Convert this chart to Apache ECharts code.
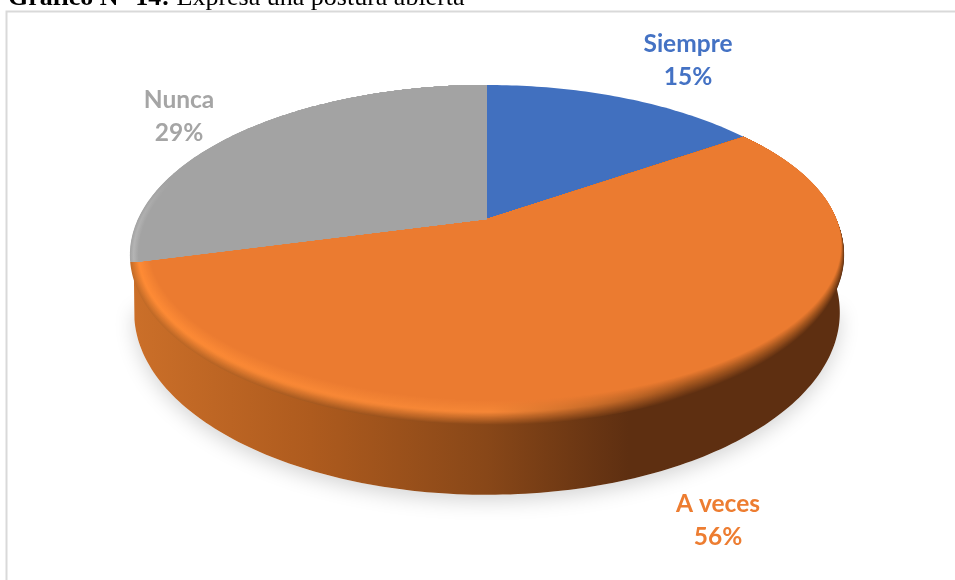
<!DOCTYPE html>
<html>
<head>
<meta charset="utf-8">
<script src="https://cdn.jsdelivr.net/npm/echarts@6/dist/echarts.min.js"></script>
<style>
  html, body { margin: 0; padding: 0; background: #fff; overflow: hidden; }
  #main { width: 955px; height: 580px; }
</style>
</head>
<body>
<div id="main"></div>
<script>
const categories = ["Siempre", "A veces", "Nunca"];
const percents = [15.4, 55.6, 29];
const faceColors = ["#4170BF", "#EB7B30", "#A3A3A3"];
const labelColors = ["#4472C4", "#ED7D31", "#A5A5A5"];

// hand placed labels, centre of the two lines (Excel had them moved)
const labelCentres = [[688, 61], [718, 521], [179, 117]];

// pie disc seen in perspective: apex on screen, and how the unit circle maps to it
const disc = { cx: 487, a: 349, b: 116, apexY: 219, p: -0.2118, depth: 55 };
const total = percents.reduce((s, v) => s + v, 0);

function project(deg, depth) {
  const u = Math.sin((deg * Math.PI) / 180),
    v = -Math.cos((deg * Math.PI) / 180),
    w = 1 + disc.p * v;
  return [
    disc.cx + (disc.a * u * (depth ? 0.988 : 1)) / w,
    (disc.b * v + disc.apexY + (depth || 0)) / w
  ];
}

function arc(from, to, depth) {
  const pts = [],
    n = Math.ceil(to - from);
  for (let i = 0; i <= n; i++) pts.push(project(from + ((to - from) * i) / n, depth));
  return pts;
}

function sliceAngles(idx) {
  let start = 0;
  for (let i = 0; i < idx; i++) start += (percents[i] / total) * 360;
  return [start, start + (percents[idx] / total) * 360];
}

function lerpColor(c1, c2, t) {
  const a = echarts.color.parse(c1),
    b = echarts.color.parse(c2);
  return (
    "rgb(" + [0, 1, 2].map((i) => Math.round(a[i] + (b[i] - a[i]) * t)).join(",") + ")"
  );
}

function ramp(outer, peak, face, t, at) {
  return t < at ? lerpColor(outer, peak, t / at) : lerpColor(peak, face, (t - at) / (1 - at));
}

function hGradient(stops) {
  return new echarts.graphic.LinearGradient(0, 0, 1, 0, stops);
}

// soft shadow under the front half of the disc
function renderShadow() {
  return {
    type: "polygon",
    shape: { points: arc(100, 260, disc.depth) },
    style: {
      fill: "#fff",
      shadowBlur: 20,
      shadowOffsetY: 6,
      shadowColor: "rgba(0,0,0,0.17)"
    }
  };
}

function renderWall(params, api) {
  const [start, end] = sliceAngles(params.dataIndex);
  // only the slice crossing the front shows a side wall in this view
  if (!(start < 180 && end > 180)) return;
  // upper edge pulled in a bit under the face, else the white shows in the seam
  const upper = arc(start, end).map((p) => [
    p[0] + (disc.cx - p[0]) * 0.01,
    p[1] + (disc.apexY - p[1]) * 0.01
  ]);
  return {
    type: "polygon",
    shape: { points: upper.concat(arc(start, end, disc.depth).reverse()) },
    style: {
      fill: hGradient([
        { offset: 0, color: "#CB6F29" },
        { offset: 0.25, color: "#AE5B1E" },
        { offset: 0.5, color: "#884718" },
        { offset: 0.7, color: "#5E2F11" },
        { offset: 1, color: "#5E2F11" }
      ])
    }
  };
}

function renderFace(params, api) {
  const idx = params.dataIndex,
    [start, end] = sliceAngles(idx),
    apex = [disc.cx, disc.apexY],
    rim = arc(start, end),
    face = faceColors[idx],
    children = [];
  const layers = 24;
  if (start < 180 && end > 180) {
    // rounded edge: thin layers shrinking towards the inside
    const anchor = rim[0];
    for (let k = 0; k < layers; k++) {
      const t = k / (layers - 1),
        pts = rim.map((p) => [
          anchor[0] + (p[0] - anchor[0]) * (1 - 0.03 * t),
          anchor[1] + (p[1] - anchor[1]) * (1 - 0.085 * t)
        ]);
      const left = ramp("#C46C28", "#FF8B35", face, t, 0.42),
        mid = ramp("#8A4818", "#F58636", face, t, 0.5),
        right = ramp("#5E2F11", "#A8581F", face, t, 0.55);
      children.push({
        type: "polygon",
        shape: { points: [apex].concat(pts) },
        style: {
          fill: hGradient([
            { offset: 0, color: left },
            { offset: 0.5, color: mid },
            { offset: 0.78, color: right },
            { offset: 1, color: right }
          ])
        }
      });
    }
  } else if (end > 180) {
    // the grey slice only has a faint lighter edge on its far left
    const anchor = rim[rim.length - 1];
    for (let k = 0; k < layers; k++) {
      const t = k / (layers - 1),
        pts = rim.map((p) => [anchor[0] + (p[0] - anchor[0]) * (1 - 0.024 * t), p[1]]);
      children.push({
        type: "polygon",
        shape: { points: [apex].concat(pts) },
        style: {
          fill: hGradient([
            { offset: 0, color: ramp(face, "#B4B4B4", face, t, 0.4) },
            { offset: 0.1, color: face },
            { offset: 1, color: face }
          ])
        }
      });
    }
  } else {
    children.push({
      type: "polygon",
      shape: { points: [apex].concat(rim) },
      style: { fill: face }
    });
  }
  return { type: "group", children: children };
}

const chart = echarts.init(document.getElementById("main"));
chart.setOption({
  backgroundColor: "#fff",
  animation: false,
  graphic: [
    {
      type: "rect",
      shape: { x: 6.5, y: 11.5, width: 960, height: 580 },
      style: { fill: "none", stroke: "#D9D9D9", lineWidth: 2 },
      z: -1
    },
    {
      type: "text",
      x: 8,
      y: 11,
      style: {
        text: "{b|Gráfico N° 14:}{r| Expresa una postura abierta}",
        fill: "#000",
        verticalAlign: "bottom",
        rich: {
          b: { font: "bold 26px 'Liberation Serif'", fill: "#000" },
          r: { font: "26px 'Liberation Serif'", fill: "#000" }
        }
      }
    }
  ].concat(
    categories.map((c, i) => ({
      type: "text",
      x: labelCentres[i][0],
      y: labelCentres[i][1],
      style: {
        text: c + "\n" + Math.round(percents[i]) + "%",
        font: "bold 24.5px Lato",
        lineHeight: 33,
        fill: labelColors[i],
        align: "center",
        verticalAlign: "middle"
      }
    }))
  ),
  series: [
    { type: "custom", coordinateSystem: "none", data: [0], renderItem: renderShadow, silent: true, z: 1 },
    { type: "custom", coordinateSystem: "none", data: percents, renderItem: renderWall, z: 2 },
    { type: "custom", coordinateSystem: "none", data: percents, renderItem: renderFace, z: 3 }
  ]
});
</script>
</body>
</html>
